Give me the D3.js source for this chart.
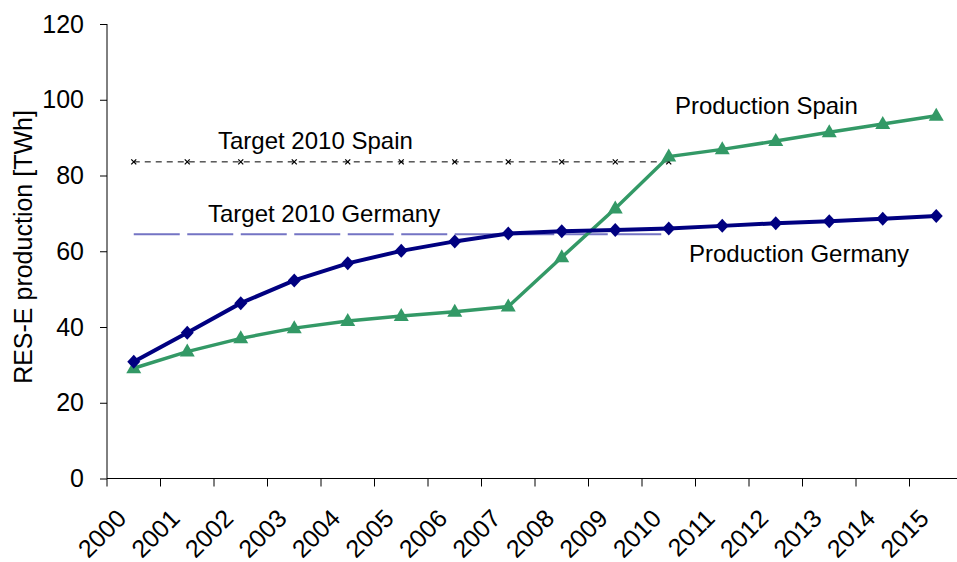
<!DOCTYPE html>
<html lang="en">
  <head>
    <meta charset="utf-8">
    <title>RES-E production</title>
    <script src="https://cdn.jsdelivr.net/npm/d3@7"></script>
    <style>
      body { margin: 0; background: #fff; }
      text { font-family: "Liberation Sans", Arial, Helvetica, sans-serif; fill: #000; }
    </style>
  </head>
  <body>
    <script>

      /* data */
      const years = ["2000","2001","2002","2003","2004","2005","2006","2007",
                     "2008","2009","2010","2011","2012","2013","2014","2015"];
      const germany = [30.8, 38.5, 46.3, 52.3, 56.8, 60.1, 62.6, 64.7,
                       65.3, 65.6, 66.0, 66.7, 67.4, 67.9, 68.6, 69.3];
      const spain = [29.1, 33.5, 37.0, 39.7, 41.6, 42.9, 44.0, 45.4,
                     58.4, 71.3, 85.0, 86.9, 89.1, 91.4, 93.6, 95.8];
      const targetYears = years.slice(0, 11); // 2000..2010
      const targetSpain = 83.6;
      const targetGermany = 64.5;
      const yTicks = [0, 20, 40, 60, 80, 100, 120];

      /* layout */
      const WIDTH = 957;
      const HEIGHT = 562;
      const X_LEFT = 107;
      const X_RIGHT = 963;
      const Y_TOP = 24;
      const Y_BOTTOM = 478.5;
      const TICK_FONT = "25px";
      const LABEL_FONT = "24px";

      const GERMANY_COLOR = "#000080";
      const SPAIN_COLOR = "#339966";
      const TARGET_DE_COLOR = "#7474c4";

      let svg = d3.select("body").append("svg")
        .attr("width", WIDTH)
        .attr("height", HEIGHT);

      let x = d3.scaleBand().domain(years).range([X_LEFT, X_RIGHT]);
      let y = d3.scaleLinear().domain([0, 120]).range([Y_BOTTOM, Y_TOP]);
      let cx = d => x(d) + x.bandwidth() / 2;

      /* y axis */
      let yAxis = svg.append("g")
        .attr("transform", "translate(" + X_LEFT + ",0)")
        .call(d3.axisLeft(y).tickValues(yTicks).tickSize(7).tickPadding(16));
      yAxis.select(".domain").attr("d", "M0," + Y_TOP + "V" + Y_BOTTOM).attr("stroke", "#000");
      yAxis.selectAll(".tick line").attr("stroke", "#000");
      yAxis.selectAll(".tick text")
        .attr("font-size", TICK_FONT)
        .attr("font-family", "Liberation Sans, Arial, sans-serif")
        .attr("fill", "#000");

      /* x axis: ticks on band boundaries */
      let xg = svg.append("g");
      xg.append("line")
        .attr("x1", X_LEFT).attr("x2", X_RIGHT)
        .attr("y1", Y_BOTTOM).attr("y2", Y_BOTTOM)
        .attr("stroke", "#000");
      xg.selectAll("line.tk")
        .data(years)
        .join("line")
        .attr("class", "tk")
        .attr("x1", d => x(d)).attr("x2", d => x(d))
        .attr("y1", Y_BOTTOM).attr("y2", Y_BOTTOM + 8)
        .attr("stroke", "#000");
      xg.selectAll("text")
        .data(years)
        .join("text")
        .attr("transform", d => "translate(" + (cx(d) - 6) + "," + 520 + ") rotate(-45)")
        .attr("text-anchor", "end")
        .attr("font-size", TICK_FONT)
        .text(d => d);

      /* y title */
      svg.append("text")
        .attr("transform", "translate(32,247) rotate(-90)")
        .attr("text-anchor", "middle")
        .attr("font-size", TICK_FONT)
        .text("RES-E production [TWh]");

      /* targets */
      let xFirst = cx(targetYears[0]);
      let xLast = cx(targetYears[targetYears.length - 1]);

      svg.append("line")
        .attr("x1", xFirst).attr("x2", xLast)
        .attr("y1", y(targetGermany)).attr("y2", y(targetGermany))
        .attr("stroke", TARGET_DE_COLOR)
        .attr("stroke-width", 2)
        .attr("stroke-dasharray", "46,7.5");

      svg.append("line")
        .attr("x1", xFirst).attr("x2", xLast)
        .attr("y1", y(targetSpain)).attr("y2", y(targetSpain))
        .attr("stroke", "#000")
        .attr("stroke-width", 1)
        .attr("stroke-dasharray", "6,5");

      svg.selectAll("path.cross")
        .data(targetYears)
        .join("path")
        .attr("class", "cross")
        .attr("transform", d => "translate(" + cx(d) + "," + y(targetSpain) + ")")
        .attr("d", "M-2.5,-2.5L2.5,2.5M-2.5,2.5L2.5,-2.5")
        .attr("stroke", "#000")
        .attr("stroke-width", 1.3);

      /* production lines */
      let line = d3.line().x((d, i) => cx(years[i])).y(d => y(d));

      svg.append("path")
        .datum(spain)
        .attr("d", line)
        .attr("fill", "none")
        .attr("stroke", SPAIN_COLOR)
        .attr("stroke-width", 3.5);

      svg.append("path")
        .datum(germany)
        .attr("d", line)
        .attr("fill", "none")
        .attr("stroke", GERMANY_COLOR)
        .attr("stroke-width", 4);

      svg.selectAll("path.tri")
        .data(spain)
        .join("path")
        .attr("class", "tri")
        .attr("transform", (d, i) => "translate(" + cx(years[i]) + "," + y(d) + ")")
        .attr("d", "M0,-8L7.5,5L-7.5,5Z")
        .attr("fill", SPAIN_COLOR);

      svg.selectAll("path.dia")
        .data(germany)
        .join("path")
        .attr("class", "dia")
        .attr("transform", (d, i) => "translate(" + cx(years[i]) + "," + y(d) + ")")
        .attr("d", "M0,-7L6.5,0L0,7L-6.5,0Z")
        .attr("fill", GERMANY_COLOR);

      /* labels */
      function add_text(t, px, py){
        return svg.append("text")
          .attr("x", px)
          .attr("y", py)
          .attr("font-size", LABEL_FONT)
          .text(t);
      }
      add_text("Target 2010 Spain", 218, 149);
      add_text("Target 2010 Germany", 208, 221.5);
      add_text("Production Spain", 675, 114);
      add_text("Production Germany", 689, 262);

    </script>
  </body>
</html>
